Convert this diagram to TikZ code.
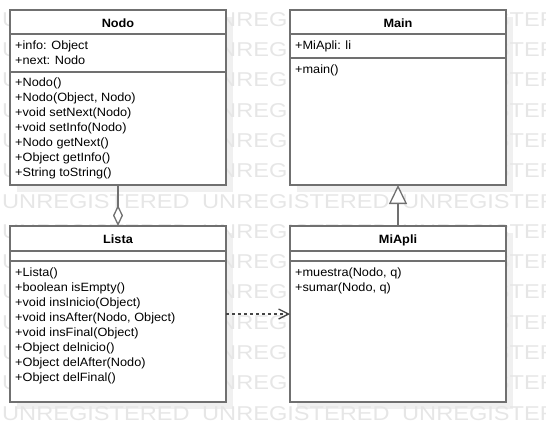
\documentclass[tikz,border=0pt]{standalone}
\usepackage{fontspec}
\setmainfont{Liberation Sans}
\newfontfamily\umlfont[FakeStretch=1.06]{Liberation Sans}
\usetikzlibrary{arrows.meta,calc}

\definecolor{edge}{HTML}{707070}
\definecolor{shadowgray}{HTML}{F0F0F0}
\definecolor{wmark}{HTML}{E6E6E6}
\definecolor{depline}{HTML}{454545}

\pgfdeclarelayer{shadelayer}
\pgfdeclarelayer{marklayer}
\pgfsetlayers{shadelayer,marklayer,main}

\tikzset{
  classbox/.style={draw=edge, line width=2pt, fill=white, minimum width=216pt,
    inner sep=0pt, outer sep=0pt},
  boxshadow/.style={fill=shadowgray, draw=none},
  divider/.style={draw=edge, line width=2pt},
  classname/.style={font=\umlfont\bfseries\fontsize{12}{15}\selectfont, anchor=base, inner sep=0pt},
  member/.style={font=\umlfont\fontsize{12}{15}\selectfont, anchor=base west, inner sep=0pt},
  wm/.style={text=wmark, font=\fontsize{20}{20}\selectfont, anchor=base west, inner sep=0pt},
  aggregation/.style={draw=edge, line width=2pt,
    -{Diamond[fill=white, length=21pt, width=10pt, line width=1.3pt]}},
  generalization/.style={draw=edge, line width=2pt,
    -{Triangle[fill=white, length=19pt, width=18pt, line width=1.3pt]}},
  dependency/.style={draw=depline, line width=1.3pt, dash pattern=on 3pt off 3pt,
    -{Straight Barb[length=10pt, width=10pt, line width=1.3pt]}},
}

\begin{document}
\begin{tikzpicture}[x=1pt, y=-1pt]
  \clip (0,0) rectangle (546,442);

  % class boxes
  \node[classbox, minimum height=175pt] (nodo)   at (118, 97.5) {};
  \node[classbox, minimum height=175pt] (main)   at (398, 97.5) {};
  \node[classbox, minimum height=176pt] (lista)  at (118, 314) {};
  \node[classbox, minimum height=176pt] (miapli) at (398, 314) {};

  % compartment dividers
  \draw[divider] ($(nodo.north west)+(0,24)$) -- ($(nodo.north east)+(0,24)$);
  \draw[divider] ($(nodo.north west)+(0,62)$) -- ($(nodo.north east)+(0,62)$);
  \draw[divider] ($(main.north west)+(0,24)$) -- ($(main.north east)+(0,24)$);
  \draw[divider] ($(main.north west)+(0,48)$) -- ($(main.north east)+(0,48)$);
  \draw[divider] ($(lista.north west)+(0,25)$) -- ($(lista.north east)+(0,25)$);
  \draw[divider] ($(lista.north west)+(0,35)$) -- ($(lista.north east)+(0,35)$);
  \draw[divider] ($(miapli.north west)+(0,25)$) -- ($(miapli.north east)+(0,25)$);
  \draw[divider] ($(miapli.north west)+(0,35)$) -- ($(miapli.north east)+(0,35)$);

  % class names
  \node[classname] (nodo-t)   at ($(nodo.north)+(0,17)$)   {Nodo};
  \node[classname] (main-t)   at ($(main.north)+(0,17)$)   {Main};
  \node[classname] (lista-t)  at ($(lista.north)+(0,17)$)  {Lista};
  \node[classname] (miapli-t) at ($(miapli.north)+(0,17)$) {MiApli};

  % Nodo members
  \foreach \txt [count=\i] in {{+info: Object}, {+next: Nodo}}
    \node[member] (nodo-a\i) at ($(nodo.north west)+(5, 24.5+15*\i)$) {\txt};
  \foreach \txt [count=\i] in {{+Nodo()}, {+Nodo(Object, Nodo)}, {+void setNext(Nodo)},
      {+void setInfo(Nodo)}, {+Nodo getNext()}, {+Object getInfo()}, {+String toString()}}
    \node[member] (nodo-m\i) at ($(nodo.north west)+(5, 61+15*\i)$) {\txt};

  % Main members
  \node[member] (main-a1) at ($(main.north west)+(5, 39.5)$) {+MiApli: li};
  \node[member] (main-m1) at ($(main.north west)+(5, 63)$) {+main()};

  % Lista members
  \foreach \txt [count=\i] in {{+Lista()}, {+boolean isEmpty()}, {+void insInicio(Object)},
      {+void insAfter(Nodo, Object)}, {+void insFinal(Object)}, {+Object delnicio()},
      {+Object delAfter(Nodo)}, {+Object delFinal()}}
    \node[member] (lista-m\i) at ($(lista.north west)+(5, 35+15*\i)$) {\txt};

  % MiApli members
  \foreach \txt [count=\i] in {{+muestra(Nodo, q)}, {+sumar(Nodo, q)}}
    \node[member] (miapli-m\i) at ($(miapli.north west)+(5, 35+15*\i)$) {\txt};

  % relations
  \draw[aggregation] (nodo.south) -- (lista.north);
  \draw[generalization] (miapli.north) -- (main.south);
  \draw[dependency] (lista.east) -- (miapli.west);

  % drop shadows
  \begin{pgfonlayer}{shadelayer}
    \foreach \b in {nodo, main, lista, miapli}
      \path[boxshadow] ($(\b.north west)+(7,7)$) rectangle ($(\b.south east)+(7,7)$);
  \end{pgfonlayer}

  % editor watermark
  \begin{pgfonlayer}{marklayer}
    \foreach \r in {0,...,13}
      \foreach \c in {0,1,2}
        \node[wm] (wm-\r-\c) at (2+200*\c, 26.2+30.3*\r) {\scalebox{1.18}[1]{UNREGISTERED}};
  \end{pgfonlayer}
\end{tikzpicture}
\end{document}
